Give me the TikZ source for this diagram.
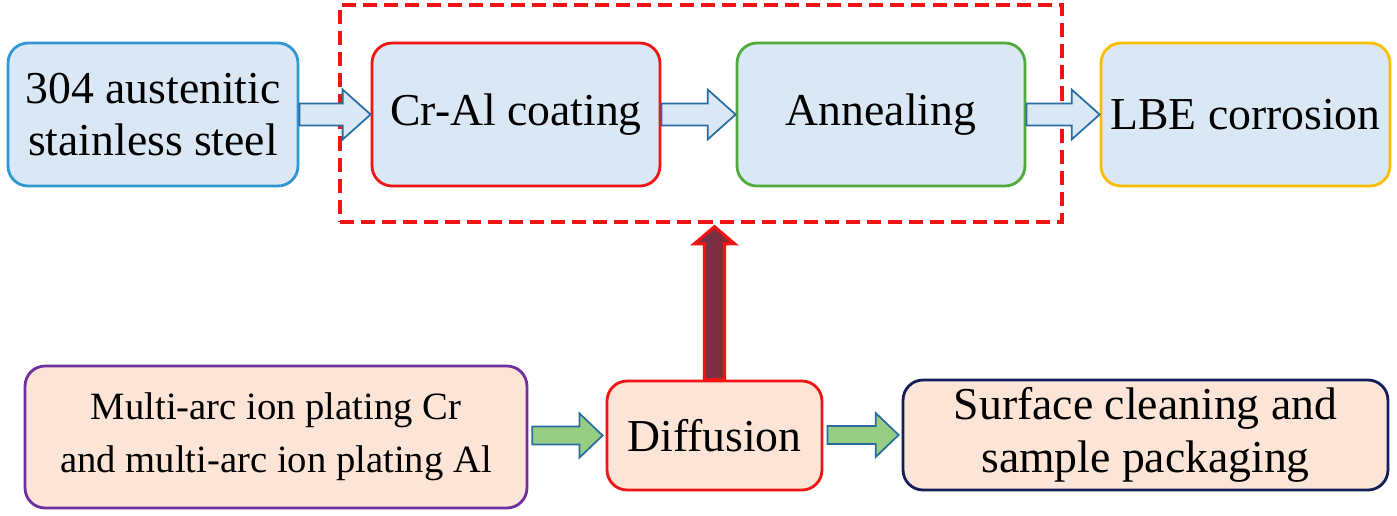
\documentclass[tikz,border=0pt]{standalone}
\usepackage{fontspec}
\setmainfont{Liberation Serif}
\usetikzlibrary{calc}
\definecolor{tfill}{RGB}{218,232,245}
\definecolor{bfill}{RGB}{252,228,214}
\definecolor{cblue}{RGB}{50,150,210}
\definecolor{cred}{RGB}{240,20,20}
\definecolor{cgreen}{RGB}{80,170,60}
\definecolor{cgold}{RGB}{250,190,0}
\definecolor{cpurple}{RGB}{112,48,160}
\definecolor{cnavy}{RGB}{20,30,90}
\definecolor{aedge}{RGB}{40,110,160}
\definecolor{agreen}{RGB}{150,205,130}
\definecolor{upl}{RGB}{95,60,90}
\definecolor{upr}{RGB}{150,35,40}
\begin{document}
\begin{tikzpicture}[x=0.02cm,y=-0.02cm,
 box/.style={draw,line width=1.6pt,rounded corners=0.4cm,align=center,inner sep=0pt,font=\fontsize{26}{30}\selectfont},
 top/.style={box,fill=tfill,minimum width=5.78cm,minimum height=2.86cm},
 hollow/.style={draw=aedge,line width=1pt,fill=tfill},
 green/.style={draw=aedge,line width=1pt,fill=agreen}]
\useasboundingbox (0,0) rectangle (1397,515);
\node[top,draw=cblue,minimum width=5.8cm] (a) at (153,114.5) {304 austenitic\\stainless steel};
\node[top,draw=cred,minimum width=5.76cm] (b) at (516,114.5) {Cr-Al coating};
\node[top,draw=cgreen,minimum width=5.76cm] (c) at (881,114.5) {Annealing};
\node[top,draw=cgold,minimum width=5.78cm] (d) at (1245.5,114.5) {LBE corrosion};
\node[draw=cred,line width=2pt,dash pattern=on 8pt off 4pt,minimum width=14.44cm,minimum height=4.34cm,inner sep=0pt] (g) at (701,113.5) {};
\node[box,draw=cpurple,fill=bfill,minimum width=10.04cm,minimum height=2.84cm,font=\fontsize{22}{30}\selectfont] (e) at (276,437) {Multi-arc ion plating Cr\\and multi-arc ion plating Al};
\node[box,draw=cred,fill=bfill,minimum width=4.3cm,minimum height=2.18cm] (f) at (714.5,435.5) {Diffusion};
\node[box,draw=cnavy,fill=bfill,minimum width=9.7cm,minimum height=2.2cm] (h) at (1145.5,435) {Surface cleaning and\\sample packaging};
% hollow arrows
\foreach \s/\t in {a/b,b/c,c/d}{
 \path[hollow] ($(\s.east)+(0,-11)$) -- ($(\s.east-|\t.west)+(-28,-11)$) -- ($(\s.east-|\t.west)+(-28,-25)$)
  -- (\s.east-|\t.west) -- ($(\s.east-|\t.west)+(-28,25)$) -- ($(\s.east-|\t.west)+(-28,11)$) -- ($(\s.east)+(0,11)$) -- cycle;}
% green arrows
\foreach \s/\t in {e/f,f/h}{
 \path[green] ($(\s.east|-\t.west)+(4,-9)$) -- ($(\t.west)+(-26,-9)$) -- ($(\t.west)+(-26,-22)$)
  -- ($(\t.west)+(-3,0)$) -- ($(\t.west)+(-26,22)$) -- ($(\t.west)+(-26,9)$) -- ($(\s.east|-\t.west)+(4,9)$) -- cycle;}
% big up arrow
\path[draw=cred,line width=1.8pt,left color=upl,right color=upr]
 ($(f.north)+(-10,0)$) -- ($(f.north|-g.south)+(-10,20)$) -- ($(f.north|-g.south)+(-20,20)$)
 -- ($(f.north|-g.south)+(0,3)$) -- ($(f.north|-g.south)+(20,20)$) -- ($(f.north|-g.south)+(10,20)$)
 -- ($(f.north)+(10,0)$) -- cycle;
\end{tikzpicture}
\end{document}
